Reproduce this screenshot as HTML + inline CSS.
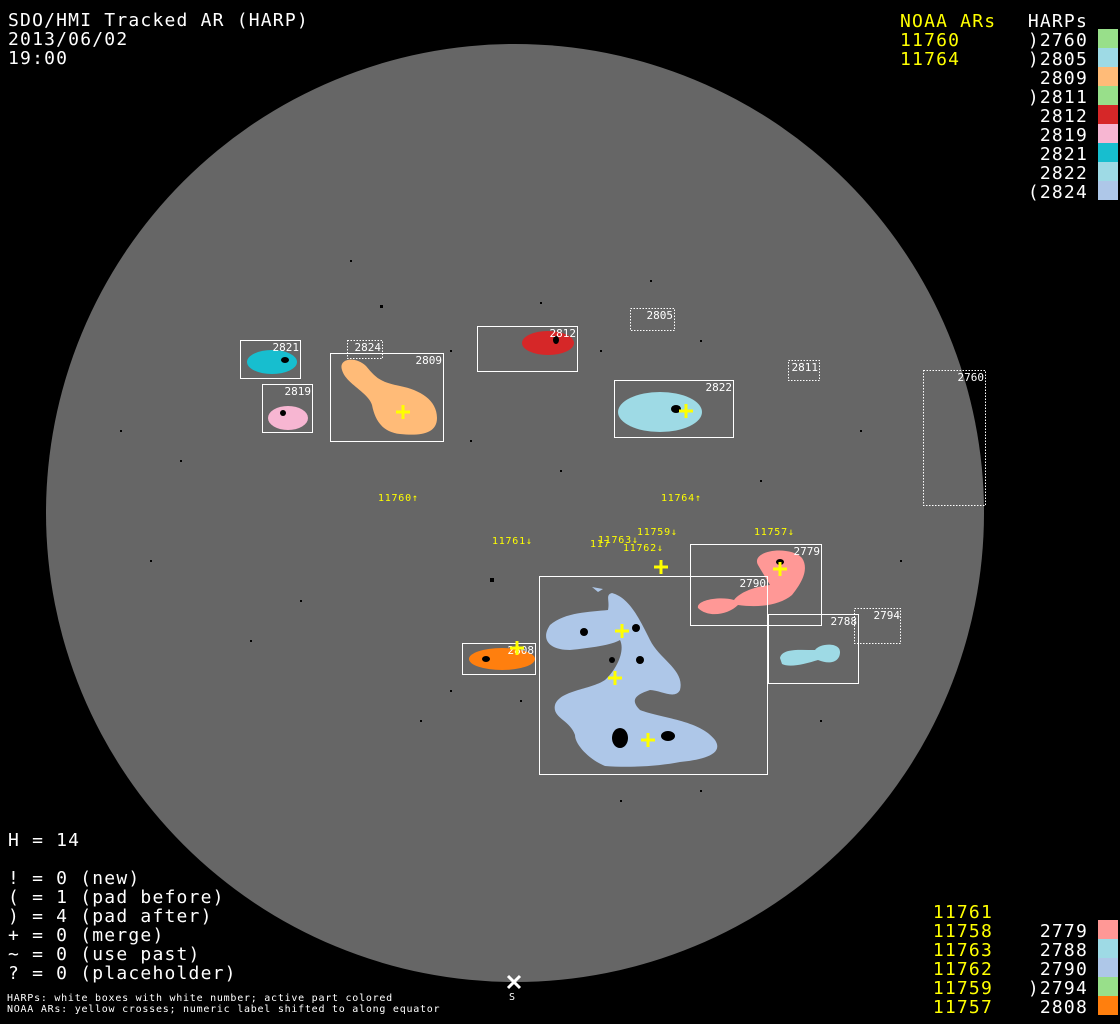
<!DOCTYPE html>
<html><head><meta charset="utf-8"><style>
html,body{margin:0;padding:0;background:#000;width:1120px;height:1024px;overflow:hidden}
svg{display:block}
text{font-family:"DejaVu Sans Mono","Liberation Mono",monospace}
.big{letter-spacing:1.2px}
.sm{letter-spacing:0.75px}
</style></head><body>
<svg width="1120" height="1024" viewBox="0 0 1120 1024" xmlns="http://www.w3.org/2000/svg">
<rect width="1120" height="1024" fill="#000"/>
<circle cx="515" cy="513" r="469" fill="#666"/>

<g fill="#000">
<rect x="380" y="305" width="3" height="3"/><rect x="540" y="302" width="2" height="2"/><rect x="450" y="350" width="2" height="2"/>
<rect x="600" y="350" width="2" height="2"/><rect x="700" y="340" width="2" height="2"/><rect x="490" y="578" width="4" height="4"/>
<rect x="120" y="430" width="2" height="2"/><rect x="180" y="460" width="2" height="2"/><rect x="760" y="480" width="2" height="2"/>
<rect x="560" y="470" width="2" height="2"/><rect x="470" y="440" width="2" height="2"/><rect x="860" y="430" width="2" height="2"/>
<rect x="300" y="600" width="2" height="2"/><rect x="420" y="720" width="2" height="2"/><rect x="820" y="720" width="2" height="2"/>
<rect x="700" y="790" width="2" height="2"/><rect x="620" y="800" width="2" height="2"/><rect x="250" y="640" width="2" height="2"/>
<rect x="450" y="690" width="2" height="2"/><rect x="520" y="700" width="2" height="2"/><rect x="350" y="260" width="2" height="2"/>
<rect x="650" y="280" width="2" height="2"/><rect x="900" y="560" width="2" height="2"/><rect x="150" y="560" width="2" height="2"/>
</g>

<ellipse cx="272" cy="362" rx="25" ry="12" fill="#17becf"/>
<ellipse cx="288" cy="418" rx="20" ry="12" fill="#f7b6d2"/>
<path d="M342,370 C338,358 356,356 366,366 C376,378 380,382 400,386 C420,390 437,400 437,418 C437,434 420,436 400,434 C382,432 375,420 372,405 C368,392 346,384 342,370 Z" fill="#ffbb78"/>
<ellipse cx="548" cy="343" rx="26" ry="12" fill="#d62728"/>
<ellipse cx="660" cy="412" rx="42" ry="20" fill="#9edae5"/>
<ellipse cx="502" cy="659" rx="33" ry="11" fill="#ff7f0e"/>
<path d="M758,565 C750,550 790,545 802,558 C810,570 800,585 792,595 C780,605 760,608 738,605 C728,615 708,618 698,608 C696,600 720,596 734,600 C742,590 760,586 770,585 C766,578 762,572 758,565 Z" fill="#ff9896"/>
<path d="M780,658 C782,648 800,650 815,650 C820,643 840,642 840,652 C840,662 830,665 818,660 C805,664 790,668 782,664 Z" fill="#9edae5"/>
<path d="M592,587 L603,589 L598,592 Z M612,593 C630,598 640,620 650,640 C660,660 685,670 680,690 C675,700 660,690 650,690 C635,695 630,700 640,710 C660,718 700,720 715,740 C725,755 700,760 680,762 C660,766 630,768 605,766 C590,760 575,745 575,735 C570,720 552,718 555,705 C560,690 590,690 605,680 C618,668 625,650 620,640 C612,645 590,648 570,650 C550,650 540,640 550,625 C565,612 590,612 608,610 C610,600 605,595 612,593 Z" fill="#aec7e8"/>
<g fill="#000">
<ellipse cx="620" cy="738" rx="8" ry="10"/><ellipse cx="668" cy="736" rx="7" ry="5"/><ellipse cx="636" cy="628" rx="4" ry="4"/>
<ellipse cx="584" cy="632" rx="4" ry="4"/><ellipse cx="676" cy="409" rx="5" ry="4"/><ellipse cx="285" cy="360" rx="4" ry="3"/>
<ellipse cx="283" cy="413" rx="3" ry="3"/><ellipse cx="486" cy="659" rx="4" ry="3"/><ellipse cx="640" cy="660" rx="4" ry="4"/>
<ellipse cx="780" cy="562" rx="4" ry="3"/><ellipse cx="556" cy="340" rx="3" ry="4"/><ellipse cx="612" cy="660" rx="3" ry="3"/>
</g>

<g fill="none" stroke="#fff" stroke-width="1">
<rect x="240.5" y="340.5" width="60" height="38"/>
<rect x="262.5" y="384.5" width="50" height="48"/>
<rect x="330.5" y="353.5" width="113" height="88"/>
<rect x="477.5" y="326.5" width="100" height="45"/>
<rect x="614.5" y="380.5" width="119" height="57"/>
<rect x="690.5" y="544.5" width="131" height="81"/>
<rect x="539.5" y="576.5" width="228" height="198"/>
<rect x="768.5" y="614.5" width="90" height="69"/>
<rect x="462.5" y="643.5" width="73" height="31"/>
</g>
<g fill="none" stroke="#fff" stroke-width="1" stroke-dasharray="1.5,1.5">
<rect x="347.5" y="340.5" width="35" height="18"/>
<rect x="630.5" y="308.5" width="44" height="22"/>
<rect x="788.5" y="360.5" width="31" height="20"/>
<rect x="923.5" y="370.5" width="62" height="135"/>
<rect x="854.5" y="608.5" width="46" height="35"/>
</g>
<g fill="#fff" font-size="11" text-anchor="end">
<text x="299" y="351">2821</text><text x="311" y="395">2819</text><text x="381" y="351">2824</text>
<text x="442" y="364">2809</text><text x="576" y="337">2812</text><text x="673" y="319">2805</text>
<text x="818" y="371">2811</text><text x="732" y="391">2822</text><text x="984" y="381">2760</text>
<text x="820" y="555">2779</text><text x="766" y="587">2790</text><text x="857" y="625">2788</text>
<text x="900" y="619">2794</text><text x="534" y="654">2808</text>
</g>

<g stroke="#ff0" stroke-width="3">
<path d="M396,412h14M403,405v14"/><path d="M679,411h14M686,404v14"/>
<path d="M654,567h14M661,560v14"/><path d="M773,569h14M780,562v14"/>
<path d="M615,631h14M622,624v14"/><path d="M608,678h14M615,671v14"/>
<path d="M641,740h14M648,733v14"/><path d="M510,648h14M517,641v14"/>
</g>
<g fill="#ff0" font-size="10" class="sm">
<text x="378" y="501">11760↑</text><text x="661" y="501">11764↑</text>
<text x="492" y="544">11761↓</text><text x="637" y="535">11759↓</text>
<text x="754" y="535">11757↓</text><text x="590" y="547">117</text>
<text x="598" y="543">11763↓</text><text x="623" y="551">11762↓</text>
</g>

<path d="M508,976l12,12M520,976l-12,12" stroke="#fff" stroke-width="3"/>
<text x="509" y="1000" fill="#fff" font-size="10">S</text>

<g fill="#fff" font-size="18" class="big">
<text x="8" y="26">SDO/HMI Tracked AR (HARP)</text>
<text x="8" y="45">2013/06/02</text>
<text x="8" y="64">19:00</text>
<text x="8" y="846">H = 14</text>
<text x="8" y="884">! = 0 (new)</text>
<text x="8" y="903">( = 1 (pad before)</text>
<text x="8" y="922">) = 4 (pad after)</text>
<text x="8" y="941">+ = 0 (merge)</text>
<text x="8" y="960">~ = 0 (use past)</text>
<text x="8" y="979">? = 0 (placeholder)</text>
</g>
<g fill="#fff" font-size="10" class="sm">
<text x="7" y="1001">HARPs: white boxes with white number; active part colored</text>
<text x="7" y="1012">NOAA ARs: yellow crosses; numeric label shifted to along equator</text>
</g>
<g fill="#ff0" font-size="18" class="big">
<text x="900" y="27">NOAA ARs</text>
<text x="900" y="46">11760</text>
<text x="900" y="65">11764</text>
</g>
<g fill="#fff" font-size="18" text-anchor="end" class="big">
<text x="1088" y="27">HARPs</text>
<text x="1088" y="46">)2760</text><text x="1088" y="65">)2805</text><text x="1088" y="84">2809</text>
<text x="1088" y="103">)2811</text><text x="1088" y="122">2812</text><text x="1088" y="141">2819</text>
<text x="1088" y="160">2821</text><text x="1088" y="179">2822</text><text x="1088" y="198">(2824</text>
</g>
<rect x="1098" y="29" width="20" height="19" fill="#98df8a"/>
<rect x="1098" y="48" width="20" height="19" fill="#9edae5"/>
<rect x="1098" y="67" width="20" height="19" fill="#ffbb78"/>
<rect x="1098" y="86" width="20" height="19" fill="#98df8a"/>
<rect x="1098" y="105" width="20" height="19" fill="#d62728"/>
<rect x="1098" y="124" width="20" height="19" fill="#f7b6d2"/>
<rect x="1098" y="143" width="20" height="19" fill="#17becf"/>
<rect x="1098" y="162" width="20" height="19" fill="#9edae5"/>
<rect x="1098" y="181" width="20" height="19" fill="#aec7e8"/>

<g fill="#ff0" font-size="18" text-anchor="end" class="big">
<text x="993" y="918">11761</text><text x="993" y="937">11758</text><text x="993" y="956">11763</text>
<text x="993" y="975">11762</text><text x="993" y="994">11759</text><text x="993" y="1013">11757</text>
</g>
<g fill="#fff" font-size="18" text-anchor="end" class="big">
<text x="1088" y="937">2779</text><text x="1088" y="956">2788</text><text x="1088" y="975">2790</text>
<text x="1088" y="994">)2794</text><text x="1088" y="1013">2808</text>
</g>
<rect x="1098" y="920" width="20" height="19" fill="#ff9896"/>
<rect x="1098" y="939" width="20" height="19" fill="#9edae5"/>
<rect x="1098" y="958" width="20" height="19" fill="#aec7e8"/>
<rect x="1098" y="977" width="20" height="19" fill="#98df8a"/>
<rect x="1098" y="996" width="20" height="19" fill="#ff7f0e"/>
</svg>
</body></html>
